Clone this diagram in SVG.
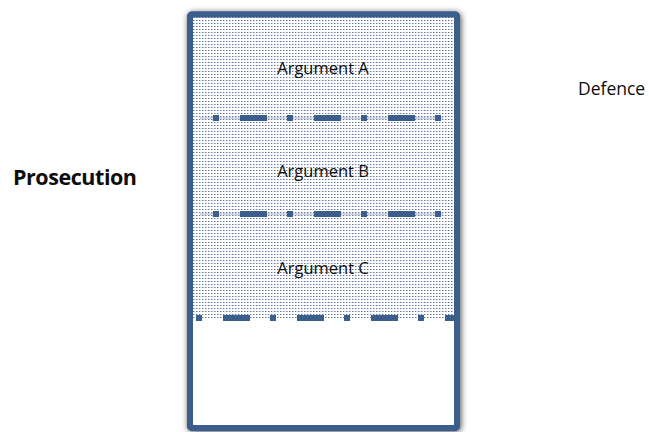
<svg xmlns="http://www.w3.org/2000/svg" width="649" height="432" viewBox="0 0 649 432">
  <defs>
    <!-- fine dotted fill for the argued part of the column -->
    <pattern id="dots" width="3" height="3" patternUnits="userSpaceOnUse" x="190" y="14">
      <rect width="3" height="3" fill="#ffffff"/>
      <rect width="1" height="1" fill="#5e739b"/>
      <rect x="1" width="1" height="1" fill="#b8c3d7"/>
    </pattern>
    <filter id="shadow" x="-10%" y="-10%" width="120%" height="120%">
      <feDropShadow dx="1" dy="1" stdDeviation="3" flood-color="#000" flood-opacity="0.7"/>
    </filter>
  </defs>
  <style>
    .label { font-family: "Open Sans", "Noto Sans", "Liberation Sans", sans-serif; fill: #0d0d0d; }
    .arg { font-size: 16.5px; text-anchor: middle; }
    .frame { fill: none; stroke: #3b5e8c; stroke-width: 6; }
    .divider { stroke: #3b5e8c; stroke-width: 6; stroke-dasharray: 6 21 27 20; fill: none; }
    .hair { stroke: #a3adbd; stroke-width: 1; }
  </style>

  <rect width="649" height="432" fill="#ffffff"/>

  <!-- column body -->
  <g id="column">
    <rect x="190" y="14.5" width="267" height="413.5" rx="2" fill="#ffffff" stroke="#3b5e8c" stroke-width="6" filter="url(#shadow)"/>
    <rect x="190" y="14.5" width="267" height="303.5" fill="url(#dots)"/>
    <rect x="190" y="14.5" width="267" height="413.5" rx="2" class="frame"/>
  </g>

  <!-- dash-dot dividers between arguments -->
  <g id="connectors">
    <line class="hair" x1="200" y1="118" x2="443" y2="118"/>
    <line class="divider" x1="213" y1="118" x2="443" y2="118"/>
    <line class="hair" x1="200" y1="214" x2="443" y2="214"/>
    <line class="divider" x1="213" y1="214" x2="443" y2="214"/>
    <line class="divider" x1="196" y1="318" x2="457" y2="318"/>
  </g>

  <g id="argument-a">
    <text class="label arg" x="323" y="74">Argument A</text>
  </g>
  <g id="argument-b">
    <text class="label arg" x="323" y="176.5">Argument B</text>
  </g>
  <g id="argument-c">
    <text class="label arg" x="323" y="274">Argument C</text>
  </g>

  <g id="prosecution">
    <text class="label" x="13" y="185" font-size="21.5" font-weight="bold" textLength="124">Prosecution</text>
  </g>
  <g id="defence">
    <text class="label" x="578" y="95" font-size="17.5">Defence</text>
  </g>
</svg>
